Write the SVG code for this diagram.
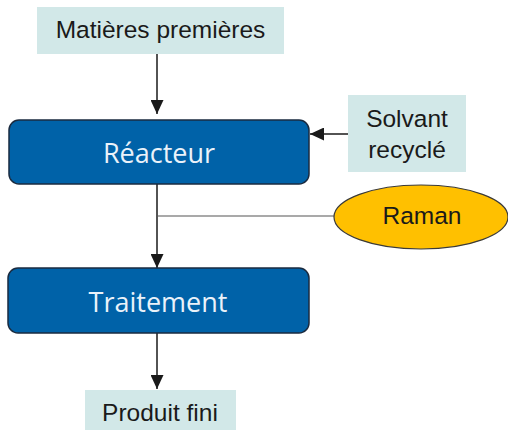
<svg xmlns="http://www.w3.org/2000/svg" width="508" height="430" viewBox="0 0 508 430">
<style>
.lbl{fill:#D2E8E8}
.proc{fill:#0062A8;stroke:#1A2B40;stroke-width:1.5}
.t{font-family:"Liberation Sans",Arial,sans-serif;font-size:24.5px;fill:#1a1a1a;text-anchor:middle}
.tw{font-family:"Open Sans","Noto Sans",sans-serif;font-size:27px;fill:#EAF2FA;text-anchor:middle}
.ln{stroke:#1a1a1a;stroke-width:1.5;fill:none}
</style>
<defs>
<marker id="ah" viewBox="0 0 10 10" refX="10" refY="5" markerWidth="14" markerHeight="13" markerUnits="userSpaceOnUse" orient="auto" preserveAspectRatio="none"><path d="M0,0 L10,5 L0,10 z" fill="#1a1a1a"/></marker>
</defs>
<rect width="508" height="430" fill="#fff"/>
<g id="connectors">
<line class="ln" x1="157" y1="54" x2="157" y2="114" marker-end="url(#ah)"/>
<line class="ln" x1="348" y1="134" x2="310" y2="134" marker-end="url(#ah)"/>
<line class="ln" x1="157" y1="184" x2="157" y2="268" marker-end="url(#ah)"/>
<line x1="157" y1="216" x2="334" y2="216" stroke="#555" stroke-width="1.2"/>
<line class="ln" x1="157" y1="333" x2="157" y2="389" marker-end="url(#ah)"/>
</g>
<g id="matieres">
<rect class="lbl" x="37" y="7" width="247" height="47"/>
<text class="t" x="160.5" y="38">Matières premières</text>
</g>
<g id="reacteur">
<rect class="proc" x="9" y="120" width="300" height="64" rx="10"/>
<text class="tw" x="159" y="163">Réacteur</text>
</g>
<g id="solvant">
<rect class="lbl" x="348" y="95" width="118" height="77"/>
<text class="t" x="407" y="127">Solvant</text>
<text class="t" x="407" y="158">recyclé</text>
</g>
<g id="raman">
<ellipse cx="421" cy="217" rx="87" ry="32" fill="#FFC000" stroke="#3a3a3a" stroke-width="1.2"/>
<text class="t" x="422" y="224">Raman</text>
</g>
<g id="traitement">
<rect class="proc" x="8" y="268" width="301" height="65" rx="10"/>
<text class="tw" x="158" y="312">Traitement</text>
</g>
<g id="produit">
<rect class="lbl" x="85" y="390" width="151" height="40"/>
<text class="t" x="160" y="421">Produit fini</text>
</g>
</svg>
